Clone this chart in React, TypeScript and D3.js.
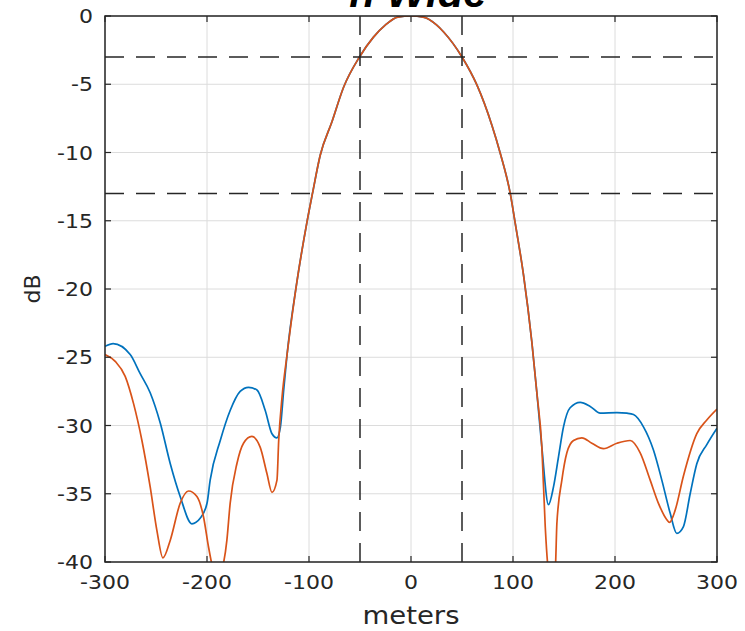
import React from "react";
import * as d3 from "d3";

const W = 745;
const H = 631;

const xTicks = [-300, -200, -100, 0, 100, 200, 300];
const yTicks = [0, -5, -10, -15, -20, -25, -30, -35, -40];
const refLevels = [-3, -13];
const refPositions = [-50, 50];
const titleText = "n Wide";
const xLabel = "meters";
const yLabel = "dB";

const blueX = [
  -300, -292, -275.3, -265.5, -255.7, -245.9, -236, -226.3, -214.8, -206.7, -200, -196.9, -187, -177.3,
  -167.5, -159.3, -151, -142.9, -136.3, -131.4, -128, -124.8, -121.5, -111.9, -102, -96.6, -89,
  -77.5, -66, -50.5, -36.8, -25, -13, 0, 12, 25, 32, 50, 64.6, 79.3, 87.5, 97.3, 102, 110.3, 118.5,
  123.4, 128.3, 134.8, 139.7, 144.6, 149.5, 156, 165.9, 175.7, 185.5, 201.9, 211.7, 218.1, 227.9,
  237.7, 245.9, 254, 260.6, 267.1, 273.7, 280.2, 290, 300,
];
const blueY = [
  -24.2, -24.0, -24.8, -26.2, -27.6, -29.8, -32.8, -35.2, -37.2, -36.8, -35.7, -34, -31.1, -28.9,
  -27.5, -27.2, -27.4, -28.9, -30.6, -30.9, -30.1, -27.4, -24.8, -19.5, -15.1, -13, -10.2,
  -7.75, -5.2, -3, -1.55, -0.65, -0.08, 0, -0.08, -0.65, -1.17, -3, -5.05, -8, -10.05, -13, -15.1,
  -18.96, -23.9, -27.6, -31.6, -35.8, -34.5, -32.3, -30.1, -28.7, -28.3, -28.6, -29.1, -29.05, -29.1,
  -29.2, -30.1, -31.8, -34, -36.4, -37.9, -37.4, -35, -32.8, -31.4, -30.2,
];

const orangeX = [
  -300, -290, -280.2, -272, -263.8, -255.7, -249.1, -243.2, -236, -226.3, -218.1, -209.9, -203.4,
  -198.5, -194, -190.5, -186, -180.5, -177.3, -170.7, -164.2, -156, -147.8, -141.3, -136.3, -131.4,
  -129.7, -126.4, -121.5, -111.9, -102, -96.6, -89, -77.5, -66, -50.5, -36.8, -25, -13, 0, 12,
  25, 32, 50, 64.6, 79.3, 87.5, 97.3, 102, 110.3, 118.5, 123.4, 128.3, 131.6, 134.5, 138.5, 141.6,
  143, 147.9, 152.8, 159.3, 167.5, 177.3, 188.7, 201.9, 214.9, 224.7, 234.5, 242.6, 250.8, 253.4,
  259, 267.1, 280.2, 290, 300,
];
const orangeY = [
  -24.8, -25.3, -26.4, -28.4, -31.1, -34.5, -37.7, -39.7, -38.4, -35.7, -34.8, -35.2, -36.7,
  -38.9, -40.6, -41.5, -40.8, -38.4, -35.7, -32.8, -31.3, -30.8, -31.6, -33.5, -34.9, -34,
  -31.1, -27.9, -24.8, -19.5, -15.1, -13, -10.2, -7.75, -5.2, -3, -1.55, -0.65, -0.08, 0, -0.08,
  -0.65, -1.17, -3, -5.05, -8, -10.05, -13, -15.1, -18.96, -23.9, -27.6, -31.6, -37.4, -40.5, -41.5,
  -40.3, -37.2, -34, -32, -31.1, -30.9, -31.3, -31.7, -31.3, -31.1, -32, -34, -35.7, -36.9, -37.1,
  -36.2, -33.7, -30.6, -29.6, -28.8,
];

const margin = { left: 105, right: W - 717, top: 16, bottom: H - 562 };

export default function App() {
  const x = d3.scaleLinear().domain([-300, 300]).range([margin.left, W - margin.right]);
  const y = d3.scaleLinear().domain([-40, 0]).range([H - margin.bottom, margin.top]);
  const x0 = x(-300), x1 = x(300), y0 = y(-40), y1 = y(0);

  const line = d3
    .line<[number, number]>()
    .x((d) => x(d[0]))
    .y((d) => y(d[1]))
    .curve(d3.curveMonotoneX);

  const blue = line(blueX.map((v, i) => [v, blueY[i]] as [number, number])) || "";
  const orange = line(orangeX.map((v, i) => [v, orangeY[i]] as [number, number])) || "";

  const axisColor = "#262626";
  const gridColor = "#dcdcdc";
  const font = "'DejaVu Sans', sans-serif";
  const tickLen = 6;
  const sx = 1.1;

  return (
    <svg
      width={W}
      height={H}
      style={{ position: "absolute", left: 0, top: 0, background: "#fff" }}
      fontFamily={font}
    >
      <rect x={0} y={0} width={W} height={H} fill="#fff" />
      <defs>
        <clipPath id="plotclip">
          <rect x={x0} y={y1} width={x1 - x0} height={y0 - y1} />
        </clipPath>
      </defs>
      {/* grid */}
      {xTicks.map((t) => (
        <line key={"gx" + t} x1={x(t)} x2={x(t)} y1={y1} y2={y0} stroke={gridColor} strokeWidth={1} />
      ))}
      {yTicks.map((t) => (
        <line key={"gy" + t} x1={x0} x2={x1} y1={y(t)} y2={y(t)} stroke={gridColor} strokeWidth={1} />
      ))}
      {/* curves */}
      <g clipPath="url(#plotclip)" fill="none" strokeWidth={1.7}>
        <path d={blue} stroke="#0072BD" />
        <path d={orange} stroke="#D95319" />
      </g>
      {/* reference dashed lines */}
      <g stroke={axisColor} strokeWidth={1.5} strokeDasharray="19,12">
        {refLevels.map((v) => (
          <line key={"rl" + v} x1={x0} x2={x1} y1={y(v)} y2={y(v)} />
        ))}
        {refPositions.map((v) => (
          <line key={"rp" + v} x1={x(v)} x2={x(v)} y1={y1} y2={y0} />
        ))}
      </g>
      {/* axes box */}
      <rect x={x0} y={y1} width={x1 - x0} height={y0 - y1} fill="none" stroke={axisColor} strokeWidth={1.5} />
      {/* ticks */}
      {xTicks.map((t) => (
        <g key={"tx" + t} stroke={axisColor} strokeWidth={1.2}>
          <line x1={x(t)} x2={x(t)} y1={y0} y2={y0 - tickLen} />
          <line x1={x(t)} x2={x(t)} y1={y1} y2={y1 + tickLen} />
        </g>
      ))}
      {yTicks.map((t) => (
        <g key={"ty" + t} stroke={axisColor} strokeWidth={1.2}>
          <line x1={x0} x2={x0 + tickLen} y1={y(t)} y2={y(t)} />
          <line x1={x1} x2={x1 - tickLen} y1={y(t)} y2={y(t)} />
        </g>
      ))}
      {/* tick labels */}
      {xTicks.map((t) => (
        <text
          key={"lx" + t}
          transform={`translate(${x(t)}, ${y0 + 27}) scale(${sx}, 1)`}
          textAnchor="middle"
          fontSize={20}
          fill={axisColor}
        >
          {t}
        </text>
      ))}
      {yTicks.map((t) => (
        <text
          key={"ly" + t}
          transform={`translate(${x0 - 12}, ${y(t) + 7}) scale(${sx}, 1)`}
          textAnchor="end"
          fontSize={20}
          fill={axisColor}
        >
          {t}
        </text>
      ))}
      {/* axis labels */}
      <text
        transform={`translate(${(x0 + x1) / 2}, 624) scale(${sx}, 1)`}
        textAnchor="middle"
        fontSize={25}
        fill={axisColor}
      >
        {xLabel}
      </text>
      <text
        transform={`translate(40, ${(y0 + y1) / 2}) rotate(-90)`}
        textAnchor="middle"
        fontSize={22}
        fill={axisColor}
      >
        {yLabel}
      </text>
      {/* title */}
      <text
        x={418}
        y={7}
        textAnchor="middle"
        fontSize={42}
        fontWeight="bold"
        fontStyle="italic"
        fontFamily="'Liberation Sans', Arial, sans-serif"
        fill="#000"
      >
        {titleText}
      </text>
    </svg>
  );
}
